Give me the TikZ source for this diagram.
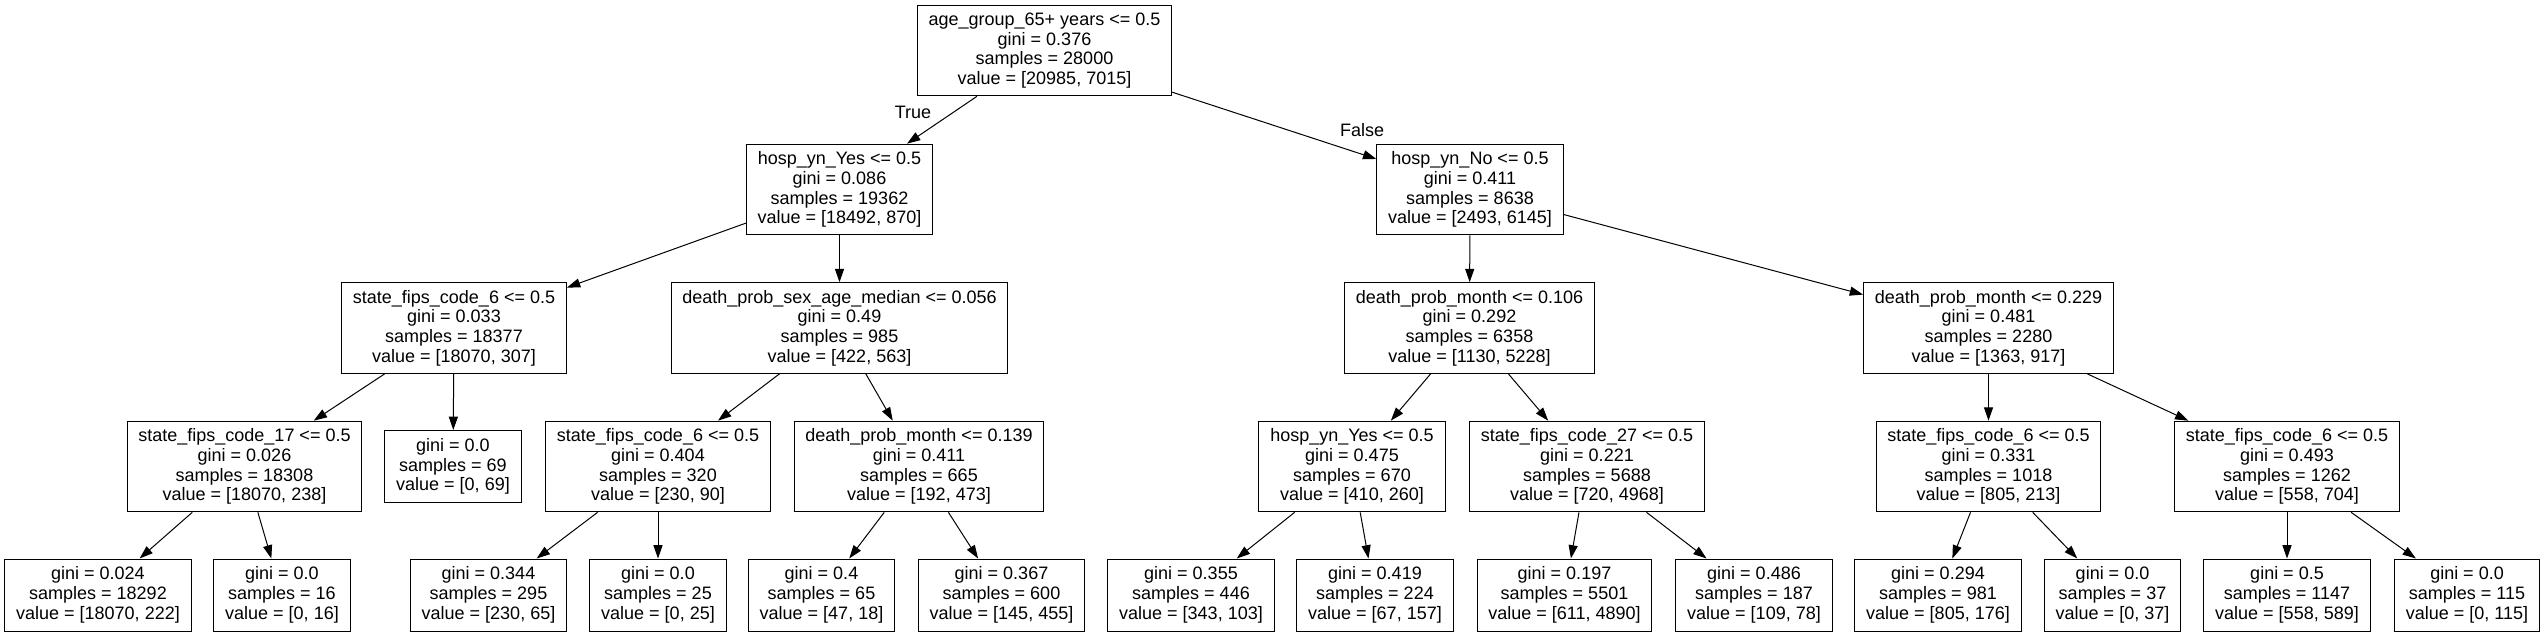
\documentclass[tikz,border=0pt]{standalone}
\usepackage{fontspec}
\setmainfont{Liberation Sans}
\usetikzlibrary{arrows.meta}
\tikzset{every picture/.style={line width=0.75pt}}

\begin{document}
\begin{tikzpicture}[x=0.75pt,y=0.75pt,yscale=-1,xscale=1,
	split/.style={draw, rectangle, align=center, inner xsep=8.5pt, inner ysep=0pt, minimum height=68pt, font=\fontsize{13.5}{14.8}\selectfont},
	leaf/.style={split, minimum height=54pt},
	lbl/.style={font=\fontsize{13.5}{14.8}\selectfont},
	edge/.style={-{Triangle[length=10pt,width=6.8pt]}}]
	\useasboundingbox (0,0) rectangle (2545,636); %set diagram size 2545 x 636

	% Root
	\node[split] (root) at (1044.5,50.5) {age\_group\_65+ years <= 0.5\\gini = 0.376\\samples = 28000\\value = [20985, 7015]};
	% Level 1
	\node[split] (hyes) at (839.5,189.5) {hosp\_yn\_Yes <= 0.5\\gini = 0.086\\samples = 19362\\value = [18492, 870]};
	\node[split] (hno) at (1470,189.5) {hosp\_yn\_No <= 0.5\\gini = 0.411\\samples = 8638\\value = [2493, 6145]};
	% Level 2
	\node[split] (sfcsix) at (454,328) {state\_fips\_code\_6 <= 0.5\\gini = 0.033\\samples = 18377\\value = [18070, 307]};
	\node[split] (dpsam) at (839.5,328) {death\_prob\_sex\_age\_median <= 0.056\\gini = 0.49\\samples = 985\\value = [422, 563]};
	\node[split] (dpmlow) at (1469.5,328) {death\_prob\_month <= 0.106\\gini = 0.292\\samples = 6358\\value = [1130, 5228]};
	\node[split] (dpmhigh) at (1988.5,328) {death\_prob\_month <= 0.229\\gini = 0.481\\samples = 2280\\value = [1363, 917]};
	% Level 3
	\node[split] (sfcseventeen) at (244.5,466.5) {state\_fips\_code\_17 <= 0.5\\gini = 0.026\\samples = 18308\\value = [18070, 238]};
	\node[leaf] (leafsixtynine) at (453,466.5) {gini = 0.0\\samples = 69\\value = [0, 69]};
	\node[split] (sfcsixb) at (658,466.5) {state\_fips\_code\_6 <= 0.5\\gini = 0.404\\samples = 320\\value = [230, 90]};
	\node[split] (dpmmid) at (919,466.5) {death\_prob\_month <= 0.139\\gini = 0.411\\samples = 665\\value = [192, 473]};
	\node[split] (hyesb) at (1352,466.5) {hosp\_yn\_Yes <= 0.5\\gini = 0.475\\samples = 670\\value = [410, 260]};
	\node[split] (sfctwentyseven) at (1587,466.5) {state\_fips\_code\_27 <= 0.5\\gini = 0.221\\samples = 5688\\value = [720, 4968]};
	\node[split] (sfcsixc) at (1988.5,466.5) {state\_fips\_code\_6 <= 0.5\\gini = 0.331\\samples = 1018\\value = [805, 213]};
	\node[split] (sfcsixd) at (2287,466.5) {state\_fips\_code\_6 <= 0.5\\gini = 0.493\\samples = 1262\\value = [558, 704]};
	% Level 4
	\node[leaf] (leafa) at (98,595) {gini = 0.024\\samples = 18292\\value = [18070, 222]};
	\node[leaf] (leafb) at (282,595) {gini = 0.0\\samples = 16\\value = [0, 16]};
	\node[leaf] (leafc) at (488.5,595) {gini = 0.344\\samples = 295\\value = [230, 65]};
	\node[leaf] (leafd) at (658,595) {gini = 0.0\\samples = 25\\value = [0, 25]};
	\node[leaf] (leafe) at (821.5,595) {gini = 0.4\\samples = 65\\value = [47, 18]};
	\node[leaf] (leaff) at (1001.5,595) {gini = 0.367\\samples = 600\\value = [145, 455]};
	\node[leaf] (leafg) at (1191,595) {gini = 0.355\\samples = 446\\value = [343, 103]};
	\node[leaf] (leafh) at (1375,595) {gini = 0.419\\samples = 224\\value = [67, 157]};
	\node[leaf] (leafi) at (1564.5,595) {gini = 0.197\\samples = 5501\\value = [611, 4890]};
	\node[leaf] (leafj) at (1754,595) {gini = 0.486\\samples = 187\\value = [109, 78]};
	\node[leaf] (leafk) at (1938,595) {gini = 0.294\\samples = 981\\value = [805, 176]};
	\node[leaf] (leafl) at (2112.5,595) {gini = 0.0\\samples = 37\\value = [0, 37]};
	\node[leaf] (leafm) at (2287,595) {gini = 0.5\\samples = 1147\\value = [558, 589]};
	\node[leaf] (leafn) at (2467,595) {gini = 0.0\\samples = 115\\value = [0, 115]};

	% Edge labels
	\node[lbl] (lbltrue) at (913,112) {True};
	\node[lbl] (lblfalse) at (1362,130) {False};

	% Edges
	\draw[edge] (root) -- (hyes);
	\draw[edge] (root) -- (hno);
	\draw[edge] (hyes) -- (sfcsix);
	\draw[edge] (hyes) -- (dpsam);
	\draw[edge] (hno) -- (dpmlow);
	\draw[edge] (hno) -- (dpmhigh);
	\draw[edge] (sfcsix) -- (sfcseventeen);
	\draw[edge] (sfcsix) -- (leafsixtynine);
	\draw[edge] (dpsam) -- (sfcsixb);
	\draw[edge] (dpsam) -- (dpmmid);
	\draw[edge] (dpmlow) -- (hyesb);
	\draw[edge] (dpmlow) -- (sfctwentyseven);
	\draw[edge] (dpmhigh) -- (sfcsixc);
	\draw[edge] (dpmhigh) -- (sfcsixd);
	\draw[edge] (sfcseventeen) -- (leafa);
	\draw[edge] (sfcseventeen) -- (leafb);
	\draw[edge] (sfcsixb) -- (leafc);
	\draw[edge] (sfcsixb) -- (leafd);
	\draw[edge] (dpmmid) -- (leafe);
	\draw[edge] (dpmmid) -- (leaff);
	\draw[edge] (hyesb) -- (leafg);
	\draw[edge] (hyesb) -- (leafh);
	\draw[edge] (sfctwentyseven) -- (leafi);
	\draw[edge] (sfctwentyseven) -- (leafj);
	\draw[edge] (sfcsixc) -- (leafk);
	\draw[edge] (sfcsixc) -- (leafl);
	\draw[edge] (sfcsixd) -- (leafm);
	\draw[edge] (sfcsixd) -- (leafn);

\end{tikzpicture}
\end{document}
